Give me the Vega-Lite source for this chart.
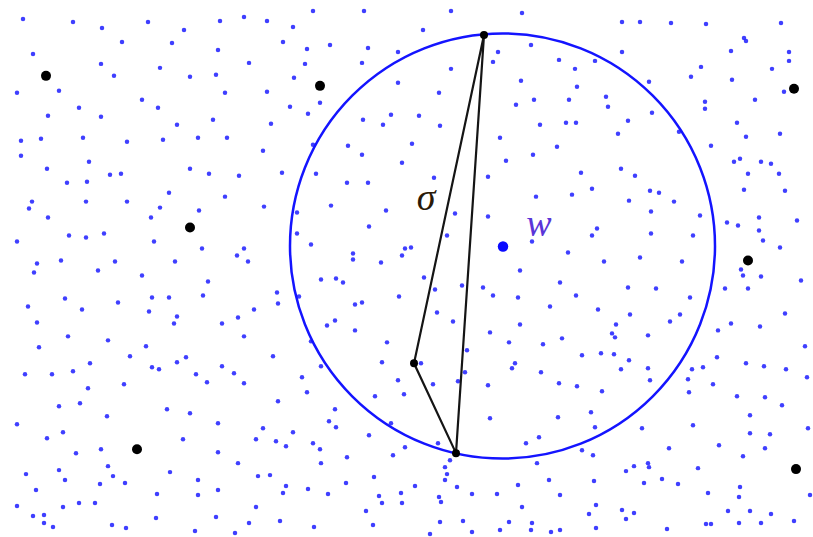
{
  "$schema": "https://vega.github.io/schema/vega-lite/v6.json",
  "autosize": {"type": "fit", "contains": "padding"},
  "width": 813,
  "height": 537,
  "padding": 0,
  "background": "white",
  "config": {"view": {"stroke": null}},
  "datasets": {
    "dots": [
      {"x":23,"y":19},{"x":73,"y":22},{"x":102,"y":28},{"x":148,"y":22},{"x":184,"y":30},{"x":122,"y":42},{"x":172,"y":43},{"x":33,"y":54},{"x":101,"y":64},{"x":160,"y":68},{"x":114,"y":76},{"x":190,"y":77},{"x":17,"y":93},{"x":59,"y":91},{"x":142,"y":100},{"x":79,"y":108},{"x":158,"y":108},{"x":48,"y":116},{"x":101,"y":117},{"x":177,"y":125},{"x":21,"y":141},{"x":41,"y":139},{"x":83,"y":138},{"x":127,"y":142},{"x":163,"y":140},{"x":198,"y":138},{"x":21,"y":156},{"x":89,"y":162},{"x":47,"y":169},{"x":190,"y":169},{"x":110,"y":175},{"x":121,"y":174},
      {"x":220,"y":21},{"x":244,"y":17},{"x":267,"y":21},{"x":313,"y":11},{"x":364,"y":11},{"x":293,"y":27},{"x":283,"y":42},{"x":218,"y":50},{"x":307,"y":49},{"x":330,"y":45},{"x":368,"y":48},{"x":398,"y":52},{"x":249,"y":63},{"x":305,"y":64},{"x":362,"y":63},{"x":216,"y":75},{"x":294,"y":78},{"x":398,"y":83},{"x":225,"y":93},{"x":267,"y":92},{"x":290,"y":107},{"x":320,"y":103},{"x":308,"y":114},{"x":213,"y":120},{"x":271,"y":124},{"x":363,"y":120},{"x":391,"y":115},{"x":383,"y":125},{"x":227,"y":138},{"x":313,"y":145},{"x":348,"y":146},{"x":263,"y":151},{"x":362,"y":155},{"x":402,"y":163},{"x":209,"y":174},{"x":239,"y":176},{"x":282,"y":173},{"x":316,"y":174},
      {"x":451,"y":11},{"x":522,"y":13},{"x":423,"y":30},{"x":498,"y":52},{"x":531,"y":45},{"x":493,"y":62},{"x":559,"y":60},{"x":595,"y":61},{"x":451,"y":69},{"x":575,"y":69},{"x":521,"y":81},{"x":439,"y":93},{"x":577,"y":87},{"x":534,"y":100},{"x":569,"y":100},{"x":606,"y":97},{"x":608,"y":107},{"x":516,"y":105},{"x":419,"y":116},{"x":440,"y":126},{"x":540,"y":125},{"x":566,"y":123},{"x":576,"y":123},{"x":500,"y":138},{"x":412,"y":144},{"x":557,"y":147},{"x":533,"y":155},{"x":506,"y":161},{"x":581,"y":173},{"x":434,"y":178},{"x":488,"y":177},
      {"x":622,"y":22},{"x":640,"y":22},{"x":671,"y":23},{"x":706,"y":24},{"x":781,"y":23},{"x":744,"y":38},{"x":746,"y":41},{"x":622,"y":52},{"x":731,"y":51},{"x":789,"y":52},{"x":789,"y":61},{"x":701,"y":67},{"x":772,"y":69},{"x":691,"y":77},{"x":732,"y":80},{"x":649,"y":82},{"x":705,"y":102},{"x":705,"y":109},{"x":755,"y":100},{"x":784,"y":92},{"x":652,"y":113},{"x":628,"y":121},{"x":737,"y":123},{"x":618,"y":134},{"x":679,"y":132},{"x":746,"y":137},{"x":780,"y":134},{"x":711,"y":146},{"x":621,"y":169},{"x":635,"y":176},{"x":734,"y":162},{"x":740,"y":159},{"x":761,"y":162},{"x":771,"y":164},{"x":748,"y":174},{"x":779,"y":174},
      {"x":67,"y":183},{"x":87,"y":182},{"x":32,"y":202},{"x":29,"y":209},{"x":86,"y":202},{"x":127,"y":202},{"x":169,"y":193},{"x":160,"y":208},{"x":199,"y":211},{"x":48,"y":218},{"x":151,"y":218},{"x":69,"y":236},{"x":86,"y":238},{"x":104,"y":234},{"x":154,"y":242},{"x":202,"y":249},{"x":17,"y":242},{"x":37,"y":264},{"x":34,"y":273},{"x":61,"y":261},{"x":115,"y":262},{"x":98,"y":271},{"x":142,"y":276},{"x":175,"y":262},{"x":65,"y":299},{"x":28,"y":307},{"x":82,"y":310},{"x":118,"y":303},{"x":152,"y":298},{"x":169,"y":298},{"x":149,"y":312},{"x":177,"y":317},{"x":174,"y":324},{"x":203,"y":296},{"x":37,"y":323},{"x":68,"y":337},{"x":108,"y":341},{"x":39,"y":348},{"x":146,"y":347},{"x":130,"y":357},{"x":186,"y":358},
      {"x":347,"y":183},{"x":368,"y":183},{"x":225,"y":197},{"x":264,"y":207},{"x":331,"y":206},{"x":386,"y":211},{"x":297,"y":213},{"x":369,"y":227},{"x":297,"y":234},{"x":311,"y":245},{"x":244,"y":249},{"x":237,"y":256},{"x":248,"y":262},{"x":353,"y":254},{"x":353,"y":260},{"x":381,"y":263},{"x":405,"y":249},{"x":402,"y":256},{"x":208,"y":282},{"x":321,"y":280},{"x":336,"y":279},{"x":343,"y":283},{"x":277,"y":293},{"x":278,"y":304},{"x":299,"y":297},{"x":399,"y":297},{"x":355,"y":305},{"x":362,"y":303},{"x":254,"y":310},{"x":222,"y":324},{"x":238,"y":318},{"x":327,"y":326},{"x":335,"y":321},{"x":355,"y":331},{"x":244,"y":337},{"x":311,"y":342},{"x":387,"y":343},{"x":273,"y":357},
      {"x":536,"y":197},{"x":572,"y":195},{"x":592,"y":189},{"x":455,"y":214},{"x":488,"y":217},{"x":597,"y":229},{"x":592,"y":236},{"x":532,"y":242},{"x":447,"y":236},{"x":411,"y":248},{"x":568,"y":253},{"x":604,"y":262},{"x":520,"y":271},{"x":424,"y":278},{"x":435,"y":290},{"x":462,"y":286},{"x":483,"y":288},{"x":493,"y":296},{"x":518,"y":298},{"x":560,"y":283},{"x":576,"y":296},{"x":550,"y":307},{"x":598,"y":310},{"x":437,"y":313},{"x":453,"y":322},{"x":520,"y":325},{"x":490,"y":333},{"x":509,"y":343},{"x":543,"y":345},{"x":562,"y":339},{"x":582,"y":356},{"x":601,"y":354},{"x":467,"y":351},
      {"x":650,"y":191},{"x":659,"y":193},{"x":629,"y":201},{"x":674,"y":202},{"x":744,"y":190},{"x":785,"y":191},{"x":651,"y":212},{"x":700,"y":216},{"x":727,"y":223},{"x":738,"y":226},{"x":759,"y":218},{"x":797,"y":221},{"x":759,"y":231},{"x":763,"y":241},{"x":780,"y":248},{"x":651,"y":234},{"x":693,"y":236},{"x":640,"y":258},{"x":682,"y":262},{"x":741,"y":270},{"x":743,"y":276},{"x":761,"y":277},{"x":801,"y":281},{"x":628,"y":288},{"x":656,"y":289},{"x":725,"y":289},{"x":748,"y":289},{"x":690,"y":298},{"x":630,"y":315},{"x":680,"y":315},{"x":670,"y":322},{"x":616,"y":325},{"x":612,"y":334},{"x":615,"y":338},{"x":731,"y":324},{"x":718,"y":331},{"x":760,"y":327},{"x":785,"y":314},{"x":648,"y":336},{"x":614,"y":355},{"x":805,"y":347},
      {"x":90,"y":364},{"x":152,"y":368},{"x":159,"y":370},{"x":177,"y":363},{"x":25,"y":375},{"x":52,"y":375},{"x":73,"y":372},{"x":196,"y":375},{"x":88,"y":389},{"x":124,"y":385},{"x":59,"y":407},{"x":80,"y":404},{"x":167,"y":410},{"x":190,"y":414},{"x":17,"y":425},{"x":107,"y":417},{"x":47,"y":439},{"x":63,"y":433},{"x":183,"y":440},{"x":76,"y":454},{"x":101,"y":450},{"x":108,"y":467},{"x":59,"y":471},{"x":113,"y":477},{"x":26,"y":475},{"x":65,"y":481},{"x":100,"y":485},{"x":125,"y":484},{"x":170,"y":473},{"x":198,"y":481},{"x":36,"y":491},{"x":157,"y":495},{"x":198,"y":496},{"x":17,"y":507},{"x":63,"y":508},{"x":79,"y":504},{"x":95,"y":504},{"x":33,"y":517},{"x":44,"y":516},{"x":44,"y":524},{"x":53,"y":528},{"x":112,"y":526},{"x":126,"y":529},{"x":156,"y":519},{"x":195,"y":532},
      {"x":222,"y":367},{"x":234,"y":374},{"x":207,"y":383},{"x":244,"y":384},{"x":302,"y":378},{"x":321,"y":367},{"x":382,"y":363},{"x":398,"y":381},{"x":404,"y":395},{"x":307,"y":393},{"x":278,"y":402},{"x":375,"y":397},{"x":335,"y":410},{"x":329,"y":422},{"x":336,"y":428},{"x":391,"y":424},{"x":218,"y":424},{"x":263,"y":429},{"x":293,"y":433},{"x":369,"y":436},{"x":256,"y":440},{"x":276,"y":442},{"x":286,"y":447},{"x":313,"y":444},{"x":320,"y":450},{"x":405,"y":448},{"x":218,"y":453},{"x":347,"y":458},{"x":393,"y":456},{"x":238,"y":464},{"x":321,"y":464},{"x":258,"y":477},{"x":270,"y":476},{"x":374,"y":478},{"x":346,"y":484},{"x":218,"y":491},{"x":286,"y":487},{"x":283,"y":494},{"x":308,"y":490},{"x":328,"y":495},{"x":379,"y":497},{"x":382,"y":504},{"x":401,"y":494},{"x":402,"y":504},{"x":256,"y":508},{"x":366,"y":512},{"x":216,"y":518},{"x":249,"y":524},{"x":280,"y":522},{"x":314,"y":528},{"x":373,"y":526},{"x":235,"y":534},
      {"x":421,"y":364},{"x":515,"y":364},{"x":512,"y":369},{"x":541,"y":373},{"x":465,"y":373},{"x":433,"y":385},{"x":458,"y":382},{"x":488,"y":386},{"x":559,"y":384},{"x":577,"y":387},{"x":602,"y":392},{"x":490,"y":419},{"x":558,"y":418},{"x":591,"y":413},{"x":595,"y":428},{"x":438,"y":444},{"x":539,"y":438},{"x":526,"y":444},{"x":582,"y":451},{"x":593,"y":456},{"x":537,"y":464},{"x":450,"y":461},{"x":445,"y":468},{"x":447,"y":475},{"x":445,"y":481},{"x":415,"y":487},{"x":457,"y":488},{"x":472,"y":495},{"x":497,"y":495},{"x":518,"y":486},{"x":549,"y":481},{"x":594,"y":482},{"x":560,"y":496},{"x":439,"y":498},{"x":441,"y":503},{"x":522,"y":508},{"x":596,"y":506},{"x":589,"y":515},{"x":440,"y":523},{"x":463,"y":522},{"x":509,"y":523},{"x":532,"y":524},{"x":531,"y":531},{"x":472,"y":533},{"x":500,"y":531},{"x":551,"y":533},{"x":560,"y":531},{"x":596,"y":529},{"x":430,"y":535},
      {"x":629,"y":361},{"x":621,"y":370},{"x":648,"y":369},{"x":650,"y":381},{"x":692,"y":370},{"x":703,"y":368},{"x":688,"y":380},{"x":689,"y":393},{"x":713,"y":385},{"x":717,"y":358},{"x":746,"y":364},{"x":764,"y":367},{"x":786,"y":370},{"x":807,"y":378},{"x":737,"y":397},{"x":765,"y":398},{"x":782,"y":406},{"x":750,"y":416},{"x":642,"y":429},{"x":693,"y":426},{"x":750,"y":434},{"x":770,"y":435},{"x":808,"y":429},{"x":669,"y":449},{"x":719,"y":446},{"x":765,"y":449},{"x":743,"y":457},{"x":634,"y":467},{"x":626,"y":472},{"x":648,"y":464},{"x":649,"y":468},{"x":698,"y":469},{"x":644,"y":484},{"x":662,"y":480},{"x":678,"y":485},{"x":708,"y":494},{"x":740,"y":488},{"x":739,"y":498},{"x":810,"y":496},{"x":622,"y":511},{"x":634,"y":514},{"x":626,"y":520},{"x":728,"y":512},{"x":750,"y":512},{"x":771,"y":515},{"x":667,"y":530},{"x":706,"y":525},{"x":711,"y":525},{"x":739,"y":524},{"x":761,"y":524},{"x":794,"y":522}
    ],
    "circle": [{"x": 502.5, "y": 246.5}],
    "triangle": [
      {"x": 484, "y": 35, "order": 1},
      {"x": 414, "y": 364, "order": 2},
      {"x": 456, "y": 454, "order": 3},
      {"x": 484, "y": 35, "order": 4}
    ],
    "vertices": [{"x": 484, "y": 35}, {"x": 414, "y": 364}, {"x": 456, "y": 454}],
    "black": [
      {"x": 46, "y": 76}, {"x": 320, "y": 86}, {"x": 794, "y": 89}, {"x": 190, "y": 228},
      {"x": 748, "y": 261}, {"x": 137, "y": 450}, {"x": 796, "y": 470}
    ],
    "center": [{"x": 503, "y": 247}],
    "labels": [
      {"x": 426, "y": 210, "text": "σ", "kind": "sigma"},
      {"x": 539, "y": 236, "text": "w", "kind": "w"}
    ]
  },
  "layer": [
    {
      "data": {"name": "dots"},
      "mark": {"type": "point", "shape": "circle", "filled": true, "size": 20, "color": "#2a2aff", "opacity": 0.9},
      "encoding": {
        "x": {"field": "x", "type": "quantitative", "scale": {"domain": [0, 813], "nice": false, "zero": false}, "axis": null},
        "y": {"field": "y", "type": "quantitative", "scale": {"domain": [0, 537], "nice": false, "zero": false, "reverse": true}, "axis": null}
      }
    },
    {
      "data": {"name": "circle"},
      "mark": {"type": "point", "shape": "circle", "filled": false, "size": 180625, "stroke": "#1414ff", "strokeWidth": 2.5, "opacity": 1},
      "encoding": {
        "x": {"field": "x", "type": "quantitative"},
        "y": {"field": "y", "type": "quantitative"}
      }
    },
    {
      "data": {"name": "triangle"},
      "mark": {"type": "line", "color": "#151515", "strokeWidth": 2.2},
      "encoding": {
        "x": {"field": "x", "type": "quantitative"},
        "y": {"field": "y", "type": "quantitative"},
        "order": {"field": "order", "type": "quantitative"}
      }
    },
    {
      "data": {"name": "vertices"},
      "mark": {"type": "point", "shape": "circle", "filled": true, "size": 64, "color": "#000000", "opacity": 1},
      "encoding": {
        "x": {"field": "x", "type": "quantitative"},
        "y": {"field": "y", "type": "quantitative"}
      }
    },
    {
      "data": {"name": "black"},
      "mark": {"type": "point", "shape": "circle", "filled": true, "size": 100, "color": "#000000", "opacity": 1},
      "encoding": {
        "x": {"field": "x", "type": "quantitative"},
        "y": {"field": "y", "type": "quantitative"}
      }
    },
    {
      "data": {"name": "center"},
      "mark": {"type": "point", "shape": "circle", "filled": true, "size": 110, "color": "#0a0aff", "opacity": 1},
      "encoding": {
        "x": {"field": "x", "type": "quantitative"},
        "y": {"field": "y", "type": "quantitative"}
      }
    },
    {
      "data": {"name": "labels"},
      "mark": {"type": "text", "font": "Liberation Serif", "fontStyle": "italic", "fontSize": 38, "align": "center", "baseline": "alphabetic"},
      "encoding": {
        "x": {"field": "x", "type": "quantitative"},
        "y": {"field": "y", "type": "quantitative"},
        "text": {"field": "text"},
        "color": {"field": "kind", "type": "nominal", "scale": {"domain": ["sigma", "w"], "range": ["#2a1a08", "#5a35d8"]}, "legend": null}
      }
    }
  ]
}
